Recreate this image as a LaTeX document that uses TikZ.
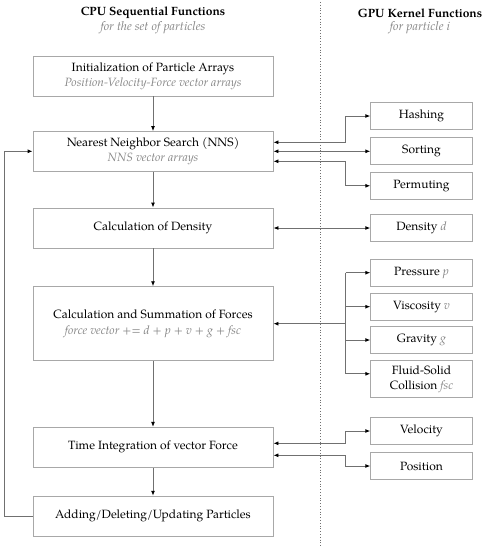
\documentclass[tikz,border=0pt]{standalone}
\usepackage{fontspec}
\setmainfont{TeX Gyre Pagella}
\usetikzlibrary{arrows.meta,calc}
\definecolor{boxgray}{HTML}{A8A8A8}
\definecolor{linegray}{HTML}{707070}
\definecolor{subgray}{HTML}{858585}
\newcommand{\subt}[1]{{\itshape\color{subgray}#1}}
\tikzset{
  cpubox/.style={draw=boxgray, line width=0.9pt, minimum width=240pt, inner sep=0pt, align=center, font=\fontsize{12}{15.2}\selectfont},
  gpubox/.style={draw=boxgray, line width=0.9pt, minimum width=101.5pt, minimum height=27pt, inner sep=0pt, align=center, font=\fontsize{12}{15}\selectfont},
  conn/.style={draw=linegray, line width=0.9pt},
  arr/.style={conn, -{Latex[length=5pt,width=4pt,color=black]}},
  bi/.style={conn, {Latex[length=5pt,width=4pt,color=black]}-{Latex[length=5pt,width=4pt,color=black]}},
  ttl/.style={font=\fontsize{12}{14}\selectfont\bfseries, inner sep=0pt},
  subttl/.style={font=\fontsize{12.3}{14}\selectfont\itshape, text=subgray, inner sep=0pt}
}
\begin{document}
\begin{tikzpicture}[x=1pt,y=-1pt]
\useasboundingbox (0,0) rectangle (490,550);
% titles
\node[ttl] (cput) at (153,13) {CPU Sequential Functions};
\node[subttl] (cpus) at (153,28) {for the set of particles};
\node[ttl] (gput) at (420,13) {GPU Kernel Functions};
\node[subttl] (gpus) at (420,28) {for particle i};
% divider
\coordinate (dtop) at (320,2);
\coordinate (dbot) at (320,547);
\draw[linegray, line width=0.8pt, dotted] (dtop) -- (dbot);
% CPU boxes
\node[cpubox, minimum height=40pt] (init) at (153,76) {Initialization of Particle Arrays\\\subt{Position-Velocity-Force vector arrays}};
\node[cpubox, minimum height=39.5pt] (nns) at (153,151.3) {Nearest Neighbor Search (NNS)\\\subt{NNS vector arrays}};
\node[cpubox, minimum height=40pt] (dens) at (153,228) {Calculation of Density};
\node[cpubox, minimum height=74pt] (forces) at (153,323.7) {Calculation and Summation of Forces\\\subt{force vector += d + p + v + g + fsc}};
\node[cpubox, minimum height=40pt] (time) at (153,447.3) {Time Integration of vector Force};
\node[cpubox, minimum height=40pt] (add) at (153,516.2) {Adding/Deleting/Updating Particles};
% GPU boxes
\node[gpubox] (hash) at (421.5,116) {Hashing};
\node[gpubox] (sort) at (421.5,150.8) {Sorting};
\node[gpubox] (perm) at (421.5,185.8) {Permuting};
\node[gpubox] (densd) at (421.5,227.8) {Density \subt{d}};
\node[gpubox] (press) at (421.5,272.7) {Pressure \subt{p}};
\node[gpubox] (visc) at (421.5,306.7) {Viscosity \subt{v}};
\node[gpubox] (grav) at (421.5,340) {Gravity \subt{g}};
\node[gpubox, minimum height=36.3pt] (fluid) at (421.5,378.8) {Fluid-Solid\\Collision \subt{fsc}};
\node[gpubox] (vel) at (421.5,431) {Velocity};
\node[gpubox] (pos) at (421.5,466) {Position};
% vertical flow
\draw[arr] (init) -- (nns);
\draw[arr] (nns) -- (dens);
\draw[arr] (dens) -- (forces);
\draw[arr] (forces) -- (time);
\draw[arr] (time) -- (add);
% feedback
\draw[arr] (add.west) -- ++(-28,0) |- (nns.west);
% NNS kernels
\draw[bi] ([yshift=9pt]nns.east) -| ([xshift=-25pt]hash.west) -- (hash.west);
\draw[bi] (nns.east) -- (nns.east -| sort.west);
\draw[bi] ([yshift=-10pt]nns.east) -| ([xshift=-25pt]perm.west) -- (perm.west);
% density
\draw[bi] (dens.east) -- (dens.east -| densd.west);
% forces
\coordinate (fork) at (345.7,323.7);
\coordinate (fl) at ([yshift=5pt]fluid.west);
\draw[arr] (fork) -- (forces.east);
\draw[conn] (fork |- press.west) -- (fork |- fl);
\draw[arr] (fork |- press.west) -- (press.west);
\draw[arr] (fork |- visc.west) -- (visc.west);
\draw[arr] (fork |- grav.west) -- (grav.west);
\draw[arr] (fork |- fl) -- (fl);
% time integration
\draw[bi] ([yshift=4pt]time.east) -| ([xshift=-25pt]vel.west) -- (vel.west);
\draw[bi] ([yshift=-8pt]time.east) -| ([xshift=-25pt]pos.west) -- (pos.west);
\end{tikzpicture}
\end{document}
